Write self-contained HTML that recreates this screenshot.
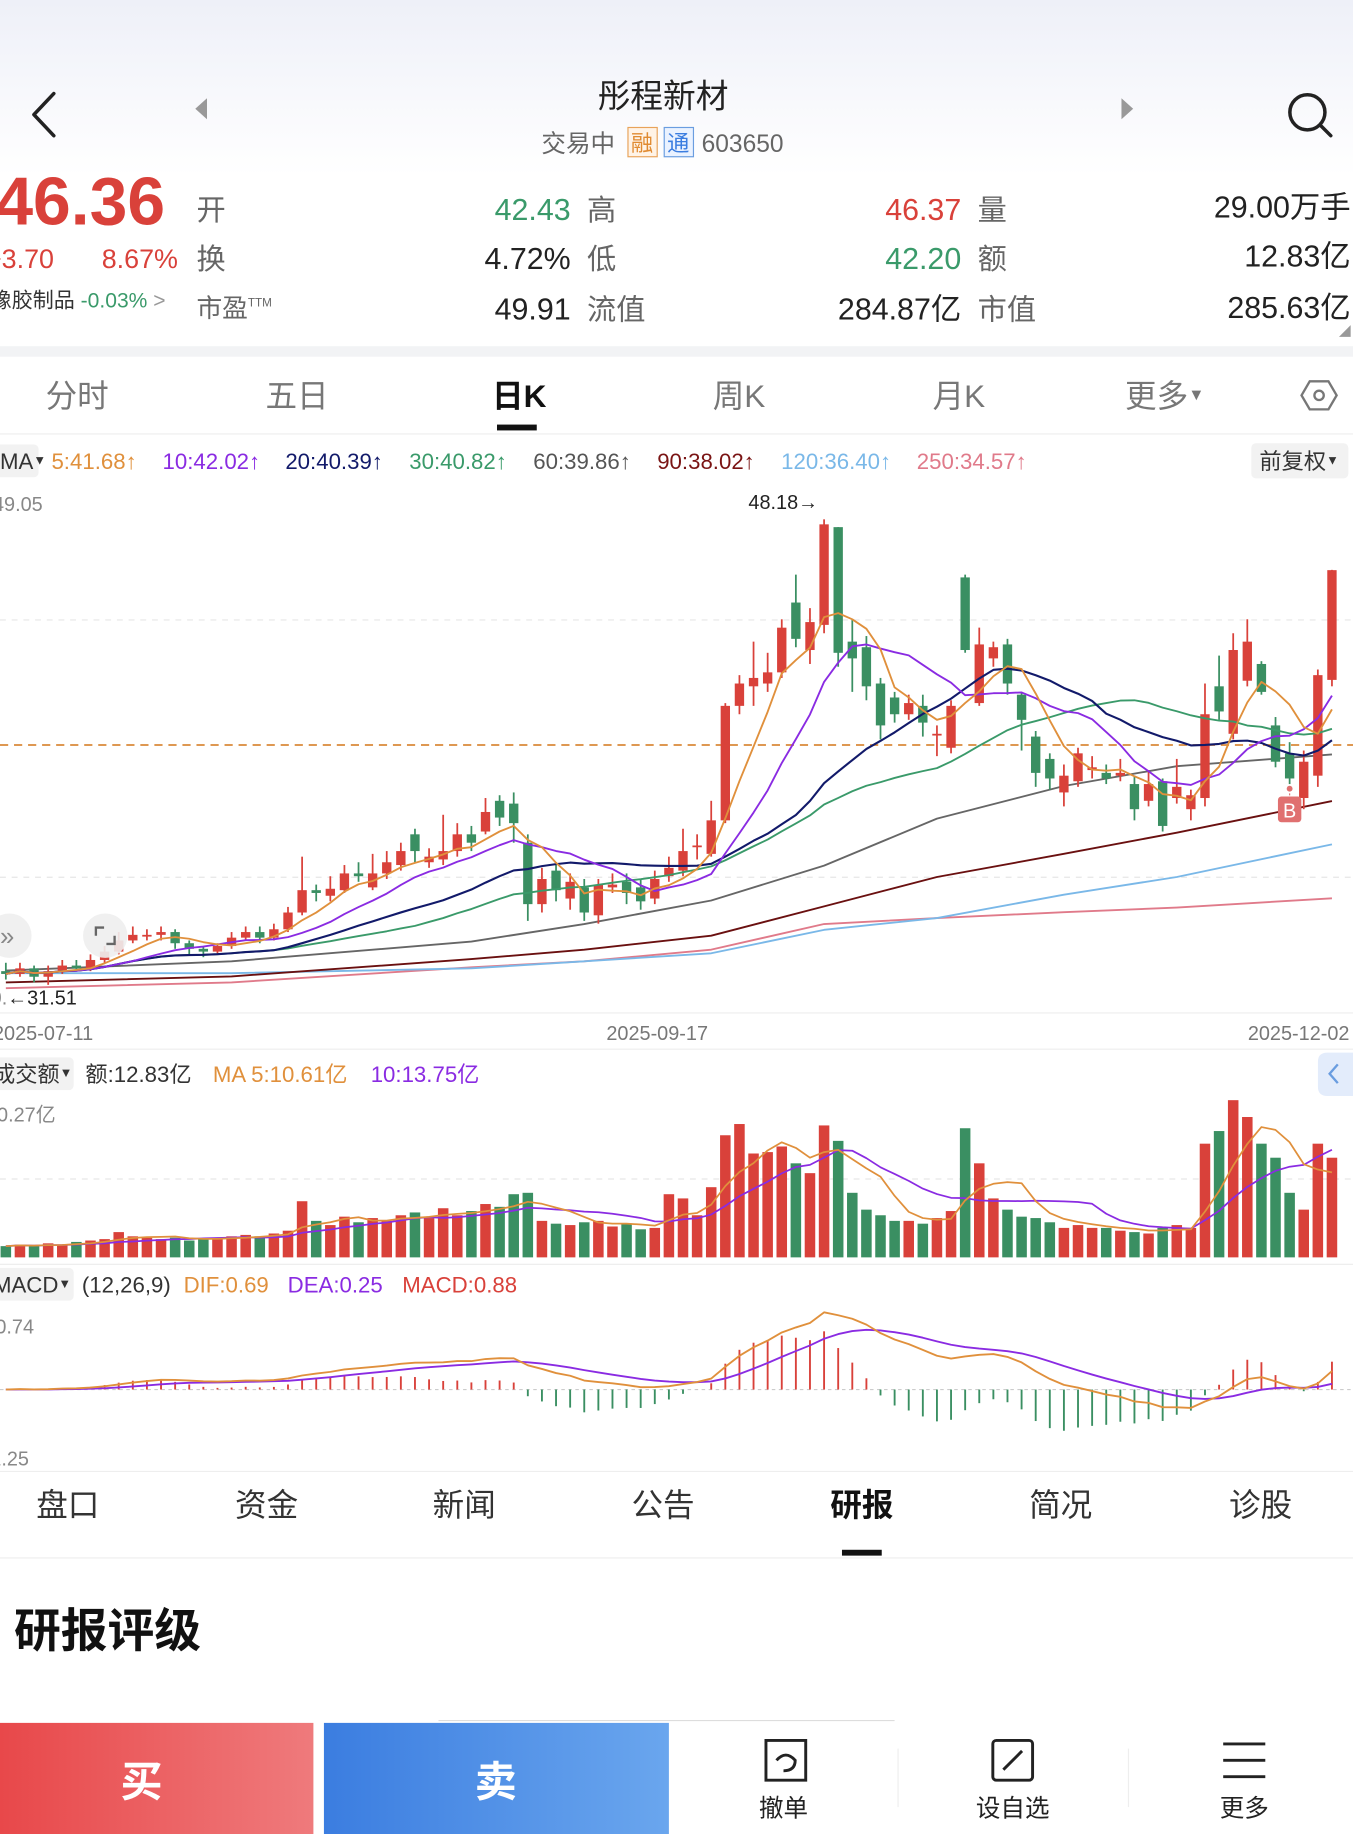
<!DOCTYPE html>
<html><head><meta charset="utf-8">
<style>
html,body{margin:0;padding:0;background:#fff;width:1353px;height:1834px;overflow:hidden}
svg{display:block}
text{font-family:"Liberation Sans","Noto Sans CJK SC",sans-serif}
</style></head>
<body>
<svg id="root" width="1353" height="1834" viewBox="0 0 1157 1568" preserveAspectRatio="none" xmlns="http://www.w3.org/2000/svg">
<defs>
<linearGradient id="topbg" x1="0" y1="0" x2="0" y2="1"><stop offset="0" stop-color="#eef0f8"/><stop offset="1" stop-color="#ffffff"/></linearGradient>
<linearGradient id="buyg" x1="0" y1="0" x2="1" y2="0"><stop offset="0" stop-color="#e8484a"/><stop offset="1" stop-color="#ef7a7c"/></linearGradient>
<linearGradient id="sellg" x1="0" y1="0" x2="1" y2="0"><stop offset="0" stop-color="#3b7de0"/><stop offset="1" stop-color="#6aa6ee"/></linearGradient>
</defs>
<rect x="0" y="0" width="1157" height="150" fill="url(#topbg)"/>
<path d="M46 80 L29 98 L46 116" fill="none" stroke="#222" stroke-width="3" stroke-linecap="round" stroke-linejoin="round"/>
<path d="M177 84 L167 93 L177 102 Z" fill="#999"/>
<path d="M959 84 L969 93 L959 102 Z" fill="#999"/>
<g><circle cx="1118" cy="96" r="15" fill="none" stroke="#222" stroke-width="3"/><line x1="1129" y1="107" x2="1138" y2="116" stroke="#222" stroke-width="3" stroke-linecap="round"/></g>
<text x="567" y="92" font-size="28" text-anchor="middle" fill="#222">彤程新材</text>
<g>
<text x="463" y="130" font-size="21" fill="#666">交易中</text>
<rect x="537" y="109" width="25" height="25" fill="#fff3e6" stroke="#e8a35a"/><text x="549" y="129" font-size="19" text-anchor="middle" fill="#e08a30">融</text>
<rect x="568" y="109" width="25" height="25" fill="#eaf2ff" stroke="#6a9de0"/><text x="580" y="129" font-size="19" text-anchor="middle" fill="#3b7de0">通</text>
<text x="600" y="130" font-size="21" fill="#666">603650</text>
</g>
<text x="-4" y="192" font-size="58" font-weight="bold" fill="#d9413a">46.36</text>
<text x="-12" y="229" font-size="23" fill="#d9413a">+3.70</text>
<text x="87" y="229" font-size="23" fill="#d9413a">8.67%</text>
<text x="-8" y="263" font-size="18" fill="#333">橡胶制品 <tspan fill="#3a9a6a">-0.03%</tspan> <tspan fill="#999">&gt;</tspan></text>
<g font-size="25" fill="#666">
<text x="168" y="188">开</text><text x="168" y="230">换</text><text x="168" y="271" font-size="22">市盈<tspan font-size="10" dy="-9">TTM</tspan></text>
<text x="502" y="188">高</text><text x="502" y="230">低</text><text x="502" y="273">流值</text>
<text x="836" y="188">量</text><text x="836" y="230">额</text><text x="836" y="273">市值</text>
</g>
<g font-size="26" text-anchor="end">
<text x="488" y="188" fill="#3a9a6a">42.43</text>
<text x="488" y="230" fill="#222">4.72%</text>
<text x="488" y="273" fill="#222">49.91</text>
<text x="822" y="188" fill="#d9413a">46.37</text>
<text x="822" y="230" fill="#3a9a6a">42.20</text>
<text x="822" y="273" fill="#222">284.87亿</text>
<text x="1155" y="186" fill="#222">29.00万手</text>
<text x="1155" y="228" fill="#222">12.83亿</text>
<text x="1155" y="272" fill="#222">285.63亿</text>
</g>
<path d="M1155 278 L1155 288 L1145 288 Z" fill="#999"/>
<rect x="0" y="296" width="1157" height="9" fill="#f2f3f5"/>
<g font-size="27" fill="#777" text-anchor="middle">
<text x="66" y="348">分时</text>
<text x="254" y="348">五日</text>
<text x="444" y="348" fill="#111" font-weight="bold">日K</text>
<text x="632" y="348">周K</text>
<text x="820" y="348">月K</text>
<text x="996" y="348">更多<tspan font-size="14" dy="-6">▼</tspan></text>
</g>
<rect x="425" y="363" width="34" height="5" fill="#111"/>
<path d="M1120 326 L1136 326 L1143 338 L1136 350 L1120 350 L1113 338 Z" fill="none" stroke="#777" stroke-width="2"/>
<circle cx="1128" cy="338" r="4" fill="none" stroke="#777" stroke-width="2"/>
<line x1="0" y1="371" x2="1157" y2="371" stroke="#eee"/>
<rect x="-5" y="380" width="38" height="28" rx="4" fill="#f2f2f2"/>
<g font-size="19">
<text x="0" y="401" fill="#333">MA<tspan font-size="11" dy="-4">▼</tspan></text>
<text x="44" y="401" fill="#e0903c">5:41.68↑</text>
<text x="139" y="401" fill="#8a2be2">10:42.02↑</text>
<text x="244" y="401" fill="#121a6a">20:40.39↑</text>
<text x="350" y="401" fill="#3a9a6a">30:40.82↑</text>
<text x="456" y="401" fill="#555">60:39.86↑</text>
<text x="562" y="401" fill="#7a1414">90:38.02↑</text>
<text x="668" y="401" fill="#7ab8e8">120:36.40↑</text>
<text x="784" y="401" fill="#e07a8a">250:34.57↑</text>
</g>
<rect x="1070" y="379" width="83" height="30" rx="4" fill="#f2f2f2"/>
<text x="1077" y="401" font-size="19" fill="#333">前复权<tspan font-size="11" dy="-4">▼</tspan></text>
<g id="grid"></g>
<g id="kline"></g>
<g id="vol"></g>
<g id="macd"></g>
<text x="-6" y="437" font-size="17" fill="#888">49.05</text>
<text x="640" y="435" font-size="17" fill="#222">48.18→</text>
<text x="-8" y="859" font-size="17" fill="#222"><tspan fill="#888">0.</tspan>←31.51</text>
<g><circle cx="8" cy="800" r="19" fill="#eee" opacity="0.9"/><text x="0" y="808" font-size="22" fill="#888">»</text></g>
<g><circle cx="90" cy="800" r="19" fill="#eee" opacity="0.9"/><path d="M82 800 L82 793 L89 793 M98 800 L98 807 L91 807" fill="none" stroke="#666" stroke-width="2"/></g>
<line x1="0" y1="866" x2="1157" y2="866" stroke="#eee"/>
<g font-size="17" fill="#777">
<text x="-6" y="889">2025-07-11</text>
<text x="562" y="889" text-anchor="middle">2025-09-17</text>
<text x="1154" y="889" text-anchor="end">2025-12-02</text>
</g>
<line x1="0" y1="897" x2="1157" y2="897" stroke="#eee"/>
<rect x="-5" y="904" width="68" height="28" rx="4" fill="#f2f2f2"/>
<g font-size="19">
<text x="-6" y="925" fill="#333">成交额<tspan font-size="11" dy="-4">▼</tspan></text>
<text x="73" y="925" fill="#333">额:12.83亿</text>
<text x="182" y="925" fill="#e0903c">MA 5:10.61亿</text>
<text x="317" y="925" fill="#8a2be2">10:13.75亿</text>
</g>
<path d="M1157 900 L1135 900 Q1127 900 1127 908 L1127 929 Q1127 937 1135 937 L1157 937 Z" fill="#e3ecfb"/>
<path d="M1144 910 L1137 918 L1144 926" fill="none" stroke="#6a9de0" stroke-width="2"/>
<text x="-12" y="959" font-size="17" fill="#888">10.27亿</text>
<line x1="0" y1="1081" x2="1157" y2="1081" stroke="#eee"/>
<rect x="-5" y="1084" width="68" height="28" rx="4" fill="#f2f2f2"/>
<g font-size="19">
<text x="-6" y="1105" fill="#333">MACD<tspan font-size="11" dy="-4">▼</tspan></text>
<text x="70" y="1105" fill="#333">(12,26,9)</text>
<text x="157" y="1105" fill="#e0903c">DIF:0.69</text>
<text x="246" y="1105" fill="#8a2be2">DEA:0.25</text>
<text x="344" y="1105" fill="#d9413a">MACD:0.88</text>
</g>
<text x="-4" y="1140" font-size="17" fill="#888">0.74</text>
<text x="-14" y="1253" font-size="17" fill="#888">-1.25</text>
<line x1="0" y1="1258" x2="1157" y2="1258" stroke="#eee"/>
<g font-size="27" fill="#333" text-anchor="middle">
<text x="58" y="1296">盘口</text>
<text x="228" y="1296">资金</text>
<text x="397" y="1296">新闻</text>
<text x="567" y="1296">公告</text>
<text x="737" y="1296" font-weight="bold" fill="#111">研报</text>
<text x="907" y="1296">简况</text>
<text x="1078" y="1296">诊股</text>
</g>
<rect x="720" y="1325" width="34" height="5" fill="#111"/>
<line x1="0" y1="1332" x2="1157" y2="1332" stroke="#eee"/>
<text x="12" y="1408" font-size="40" font-weight="bold" fill="#111">研报评级</text>
<rect x="0" y="1466" width="1157" height="102" fill="#fff"/>
<line x1="375" y1="1471" x2="765" y2="1471" stroke="#ddd"/>
<g><rect x="0" y="1473" width="268" height="95" fill="url(#buyg)"/><text x="121" y="1536" font-size="36" font-weight="bold" fill="#fff" text-anchor="middle">买</text></g>
<g><rect x="277" y="1473" width="295" height="95" fill="url(#sellg)"/><text x="424" y="1536" font-size="36" font-weight="bold" fill="#fff" text-anchor="middle">卖</text></g>
<g>
<path d="M655 1488 L689 1488 L689 1522 L655 1522 Z" fill="none" stroke="#222" stroke-width="2.5"/>
<path d="M664 1505 Q672 1496 680 1505 Q680 1514 670 1514" fill="none" stroke="#222" stroke-width="2.5"/>
<text x="670" y="1553" font-size="21" fill="#222" text-anchor="middle">撤单</text></g>
<line x1="768" y1="1495" x2="768" y2="1545" stroke="#eee"/>
<g>
<rect x="849" y="1488" width="34" height="34" rx="3" fill="none" stroke="#222" stroke-width="2.5"/>
<line x1="858" y1="1513" x2="874" y2="1497" stroke="#222" stroke-width="2.5"/>
<text x="866" y="1553" font-size="21" fill="#222" text-anchor="middle">设自选</text></g>
<line x1="965" y1="1495" x2="965" y2="1545" stroke="#eee"/>
<g>
<line x1="1046" y1="1491" x2="1082" y2="1491" stroke="#222" stroke-width="2.5"/>
<line x1="1046" y1="1505" x2="1082" y2="1505" stroke="#222" stroke-width="2.5"/>
<line x1="1046" y1="1519" x2="1082" y2="1519" stroke="#222" stroke-width="2.5"/>
<text x="1064" y="1553" font-size="21" fill="#222" text-anchor="middle">更多</text></g>
</svg>
<script>
const opens=[32.0,31.9,32.1,31.8,32.0,32.2,32.1,32.4,32.7,33.1,33.3,33.3,33.4,33.0,32.8,32.7,32.9,33.2,33.4,33.2,33.5,34.1,34.9,34.7,34.9,35.5,35.0,35.5,35.8,36.9,35.9,36.0,36.3,36.9,37.0,38.1,38.0,36.6,34.4,35.6,34.6,35.0,34.0,35.0,35.2,35.0,34.6,35.4,35.6,36.5,36.2,37.4,41.5,42.2,42.3,42.7,45.2,43.5,44.4,47.9,43.8,43.6,42.3,41.8,41.2,41.5,40.5,40.0,46.1,41.6,43.2,43.7,41.9,40.4,39.6,38.4,38.8,39.2,39.1,39.0,38.7,38.1,38.8,38.2,37.8,38.2,42.2,40.5,42.4,43.0,40.8,39.8,38.2,39.0,42.43];
const closes=[31.9,32.1,31.8,32.0,32.2,32.1,32.4,32.7,33.1,33.3,33.3,33.4,33.0,32.8,32.7,32.9,33.2,33.4,33.2,33.5,34.1,34.9,34.8,34.95,35.5,35.4,35.5,35.9,36.3,36.3,36.1,36.3,36.9,36.6,37.7,37.5,37.3,34.4,35.3,34.9,35.2,34.1,35.1,35.1,34.8,34.5,35.3,35.7,36.3,36.5,37.4,41.5,42.3,42.5,42.7,44.3,43.9,44.5,48.0,43.4,43.2,42.2,40.8,41.2,41.6,40.9,40.5,41.5,43.5,43.7,43.6,42.3,41.0,39.1,38.9,39.0,39.8,39.3,38.9,39.1,37.8,38.7,37.2,38.6,38.3,41.2,41.3,43.5,43.8,42.0,39.5,38.9,39.5,42.6,46.36];
const highs=[32.3,32.3,32.2,32.2,32.4,32.4,32.6,32.9,33.4,33.6,33.5,33.6,33.5,33.1,32.9,33.0,33.4,33.6,33.6,33.7,34.3,36.1,35.1,35.4,35.8,35.9,36.2,36.3,36.6,37.1,36.4,37.6,37.3,37.2,38.2,38.3,38.4,36.9,35.7,35.9,35.5,35.3,35.3,35.5,35.5,35.3,35.6,36.1,37.1,36.9,38.1,41.6,42.6,43.8,43.4,44.6,46.2,45.0,48.18,47.9,44.6,44.0,42.5,42.0,41.9,41.9,40.8,41.7,46.2,44.3,43.8,43.9,42.0,40.6,39.8,39.4,40.0,39.7,39.4,39.6,39.0,39.2,38.9,39.6,38.5,42.3,43.3,44.1,44.6,43.1,41.1,40.2,39.9,42.8,46.37];
const lows=[31.7,31.8,31.6,31.51,31.9,32.0,32.0,32.3,32.6,33.0,33.1,33.1,32.8,32.6,32.5,32.6,32.8,33.1,33.0,33.1,33.4,34.0,34.5,34.5,34.8,35.2,34.9,35.3,35.6,35.9,35.7,35.8,36.1,36.3,36.9,37.2,36.6,33.8,34.1,34.5,34.2,33.8,33.7,34.8,34.4,34.2,34.4,35.2,35.4,36.0,36.1,37.3,41.2,41.5,42.0,42.5,43.6,43.0,44.1,42.9,42.0,41.7,40.3,40.9,41.0,40.4,39.7,39.8,43.4,41.5,42.9,41.9,39.9,38.6,38.5,37.9,38.6,38.9,38.7,38.8,37.4,37.9,37.0,38.0,37.4,37.9,41.0,40.3,42.2,41.9,39.3,38.7,37.8,38.6,42.20];
const amounts=[0.8,0.9,0.8,1.0,0.9,1.1,1.2,1.3,1.8,1.5,1.4,1.3,1.4,1.2,1.3,1.4,1.5,1.6,1.5,1.7,1.9,4.0,2.6,2.3,2.9,2.5,2.8,2.6,3.0,3.2,2.8,3.5,3.0,3.3,3.8,3.6,4.5,4.6,2.6,2.4,2.3,2.5,2.6,2.2,2.4,2.0,2.1,4.5,4.2,3.0,5.0,8.7,9.5,7.4,7.5,7.9,6.7,6.0,9.4,8.3,4.6,3.4,3.0,2.6,2.6,2.4,2.8,3.3,9.2,6.7,4.2,3.4,2.9,2.8,2.5,2.1,2.3,2.1,2.1,1.9,1.8,1.7,2.1,2.3,2.1,8.1,9.0,11.2,10.0,8.1,7.1,4.6,3.4,8.1,7.1];
const ma60Idx=[0,16,33,41,50,58,66,75,83,94];
const ma60Val=[32.02,32.35,33.06,33.69,34.53,35.78,37.46,38.63,39.34,39.76];
const ma90Val=[31.60,31.81,32.43,32.77,33.27,34.32,35.37,36.20,36.96,38.09];
const ma120Val=[31.93,31.93,32.10,32.35,32.64,33.48,33.90,34.74,35.37,36.54];
const ma250Val=[31.39,31.60,32.14,32.35,32.77,33.69,33.90,34.11,34.28,34.61];
const costLine=40.1;

const NS="http://www.w3.org/2000/svg";
const N=closes.length;
const X0=5, X1=1139;
const xAt=i=>X0+(X1-X0)*i/(N-1);
const PMAX=48.18, PMIN=31.51, YT=444, YB=842;
const yP=p=>YT+(PMAX-p)*(YB-YT)/(PMAX-PMIN);
const UP="#d9413a", DN="#3a8f62";
function mk(tag,attrs,parent){const e=document.createElementNS(NS,tag);for(const k in attrs)e.setAttribute(k,attrs[k]);parent.appendChild(e);return e;}
function ma(arr,n){return arr.map((_,i)=>{const s=Math.max(0,i-n+1);let t=0;for(let j=s;j<=i;j++)t+=arr[j];return t/(i-s+1);});}
function polyline(pts,color,w,parent,name){const e=mk('polyline',{points:pts.map(p=>p[0].toFixed(1)+','+p[1].toFixed(1)).join(' '),fill:'none',stroke:color,'stroke-width':w,'stroke-linejoin':'round'},parent);


return e;}

const grid=document.getElementById('grid');
[530,750].forEach(y=>mk('line',{x1:0,y1:y,x2:1157,y2:y,stroke:'#e6e6e6','stroke-dasharray':'5,5'},grid));
mk('line',{x1:0,y1:1008,x2:1157,y2:1008,stroke:'#e6e6e6','stroke-dasharray':'5,5'},grid);
const cl=mk('line',{x1:0,y1:yP(costLine),x2:1157,y2:yP(costLine),stroke:'#d98a3a','stroke-width':1.5,'stroke-dasharray':'7,5'},grid);



const kg=document.getElementById('kline');
function sparse(vals,color,name){polyline(ma60Idx.map((ix,k)=>[xAt(ix),yP(vals[k])]),color,1.6,kg,name);}
sparse(ma250Val,'#e07a8a','ma250-line');
sparse(ma120Val,'#7ab8e8','ma120-line');
sparse(ma90Val,'#6a1010','ma90-line');
sparse(ma60Val,'#666','ma60-line');
const bw=8;
for(let i=0;i<N;i++){
  const up=closes[i]>=opens[i], col=up?UP:DN, x=xAt(i);
  const g=mk('g',{},kg);
  
  
  mk('line',{x1:x,y1:yP(highs[i]),x2:x,y2:yP(lows[i]),stroke:col,'stroke-width':1.5},g);
  const t=yP(Math.max(opens[i],closes[i])), b=yP(Math.min(opens[i],closes[i]));
  mk('rect',{x:x-bw/2,y:t,width:bw,height:Math.max(1.5,b-t),fill:col},g);
}
polyline(ma(closes,30).map((v,i)=>[xAt(i),yP(v)]),'#3a9a6a',1.6,kg,'ma30-line');
polyline(ma(closes,20).map((v,i)=>[xAt(i),yP(v)]),'#121a6a',1.8,kg,'ma20-line');
polyline(ma(closes,10).map((v,i)=>[xAt(i),yP(v)]),'#8a2be2',1.6,kg,'ma10-line');
polyline(ma(closes,5).map((v,i)=>[xAt(i),yP(v)]),'#e0903c',1.6,kg,'ma5-line');
const bx=xAt(91);
mk('line',{x1:bx,y1:yP(lows[91])+4,x2:bx,y2:680,stroke:'#e07070','stroke-dasharray':'2,2'},kg);
mk('circle',{cx:bx,cy:yP(lows[91])+4,r:2.5,fill:'#e07070'},kg);
const bm=mk('rect',{x:bx-10,y:681,width:20,height:22,rx:3,fill:'#e07070'},kg);


const bt=mk('text',{x:bx,y:699,'font-size':17,fill:'#fff','text-anchor':'middle'},kg);bt.textContent='B';

const vg=document.getElementById('vol');
const VB=1075, VK=12;
const yV=v=>VB-v*VK;
for(let i=0;i<N;i++){
  const up=closes[i]>=opens[i];
  const r=mk('rect',{x:xAt(i)-4.5,y:yV(amounts[i]),width:9,height:amounts[i]*VK,fill:up?UP:DN},vg);
  
  
}
polyline(ma(amounts,10).map((v,i)=>[xAt(i),yV(v)]),'#8a2be2',1.5,vg,'volume-ma10-line');
polyline(ma(amounts,5).map((v,i)=>[xAt(i),yV(v)]),'#e0903c',1.5,vg,'volume-ma5-line');

const mg=document.getElementById('macd');
function ema(arr,n){const a=2/(n+1);const out=[];arr.forEach((v,i)=>out.push(i?out[i-1]+a*(v-out[i-1]):v));return out;}
const e12=ema(closes,12), e26=ema(closes,26);
const dif=e12.map((v,i)=>v-e26[i]);
const dea=ema(dif,9);
const hist=dif.map((v,i)=>2*(v-dea[i]));
const Z=1188;
const mx=Math.max(...dif.map(Math.abs),...dea.map(Math.abs));
const MK=66/mx;
const yM=v=>Z-v*MK;
mk('line',{x1:0,y1:Z,x2:1157,y2:Z,stroke:'#ccc','stroke-dasharray':'3,3'},mg);
for(let i=0;i<N;i++){
  const h=Math.max(-66/MK,Math.min(60/MK,hist[i]*1.1));
  const l=mk('line',{x1:xAt(i),y1:Z,x2:xAt(i),y2:yM(h),stroke:hist[i]>=0?UP:DN,'stroke-width':1.6},mg);
  
  
}
polyline(dea.map((v,i)=>[xAt(i),yM(v)]),'#8a2be2',1.6,mg,'dea-line');
polyline(dif.map((v,i)=>[xAt(i),yM(v)]),'#e0903c',1.6,mg,'dif-line');
</script>
</body></html>
